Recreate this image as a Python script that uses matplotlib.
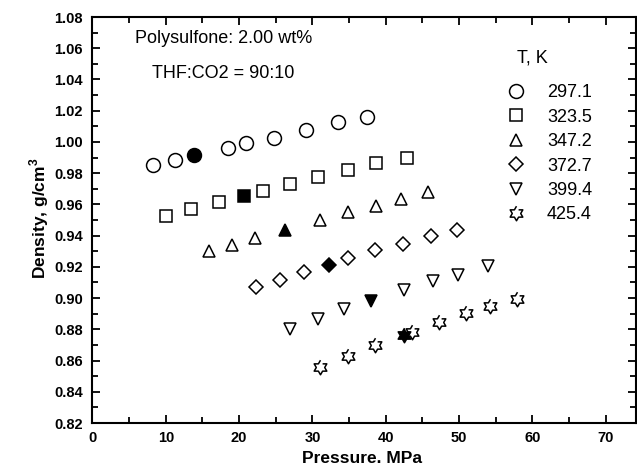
import matplotlib
matplotlib.use("Agg")
import matplotlib.pyplot as plt
from matplotlib.path import Path
from matplotlib.ticker import MultipleLocator, FormatStrFormatter
from matplotlib.lines import Line2D
import numpy as np

plt.rcParams['font.family'] = ['Liberation Sans', 'DejaVu Sans']
plt.rcParams['mathtext.fontset'] = 'custom'
plt.rcParams['mathtext.rm'] = 'Liberation Sans'
plt.rcParams['mathtext.bf'] = 'Liberation Sans:bold'

# temperatures (legend labels)
temps = ["297.1", "323.5", "347.2", "372.7", "399.4", "425.4"]

# pressure (MPa) and density (g/cm3)
p_297 = [8.3, 11.3, 13.8, 18.5, 21.0, 24.7, 29.1, 33.5, 37.5]
d_297 = [0.985, 0.9885, 0.9915, 0.9964, 0.9996, 1.0027, 1.0074, 1.0125, 1.0157]

p_323 = [10.0, 13.5, 17.3, 20.7, 23.3, 26.9, 30.7, 34.8, 38.7, 42.9]
d_323 = [0.9524, 0.9571, 0.9617, 0.9655, 0.9687, 0.973, 0.9773, 0.9821, 0.9868, 0.990]

p_347 = [15.9, 19.0, 22.2, 26.3, 31.0, 34.9, 38.7, 42.1, 45.8]
d_347 = [0.930, 0.9341, 0.9386, 0.9439, 0.9502, 0.955, 0.9592, 0.9634, 0.9677]

p_372 = [22.3, 25.6, 28.9, 32.3, 34.9, 38.5, 42.4, 46.2, 49.7]
d_372 = [0.9072, 0.9118, 0.9167, 0.9214, 0.9257, 0.9305, 0.9348, 0.9397, 0.9437]

p_399 = [26.9, 30.7, 34.3, 38.0, 42.5, 46.4, 49.9, 53.9]
d_399 = [0.880, 0.8866, 0.8929, 0.8983, 0.9055, 0.9108, 0.915, 0.9203]

p_425 = [31.0, 34.9, 38.6, 42.5, 43.6, 47.3, 51.0, 54.2, 57.9]
d_425 = [0.8558, 0.863, 0.870, 0.8764, 0.8785, 0.8849, 0.8902, 0.8951, 0.8997]

# index of the solid (filled) point in each series
filled = [2, 3, 3, 3, 3, 3]

# six pointed star marker (star of David outline)
ang = np.deg2rad(np.arange(90, 450, 30))
rad = np.where(np.arange(12) % 2 == 0, 1.0, 0.577)
star = Path(np.column_stack([rad * np.cos(ang), rad * np.sin(ang)]))

markers = ['o', 's', '^', 'D', 'v', star]
sizes = [10, 8, 8.5, 7, 8.5, 10.5]

series_p = [p_297, p_323, p_347, p_372, p_399, p_425]
series_d = [d_297, d_323, d_347, d_372, d_399, d_425]

fig = plt.figure(figsize=(6.37, 4.65), dpi=100)
ax = fig.add_axes([0.1452, 0.0903, 0.854, 0.8731])

handles = []
for i in range(6):
    P = np.array(series_p[i])
    D = np.array(series_d[i])
    k = filled[i]
    mask = np.arange(len(P)) != k
    ax.plot(P[mask], D[mask], ls='none', marker=markers[i], ms=sizes[i],
            mfc='white', mec='black', mew=1.1)
    ax.plot(P[k], D[k], ls='none', marker=markers[i], ms=sizes[i],
            mfc='black', mec='black', mew=1.1)
    handles.append(Line2D([], [], ls='none', marker=markers[i], ms=sizes[i],
                          mfc='white', mec='black', mew=1.1))

ax.set_xlim(0, 74.2)
ax.set_ylim(0.82, 1.08)
ax.xaxis.set_major_locator(MultipleLocator(10))
ax.xaxis.set_minor_locator(MultipleLocator(5))
ax.yaxis.set_major_locator(MultipleLocator(0.02))
ax.yaxis.set_minor_locator(MultipleLocator(0.01))
ax.yaxis.set_major_formatter(FormatStrFormatter('%.2f'))

ax.tick_params(which='both', direction='in', top=True, right=True, width=1.3)
ax.tick_params(which='major', length=6, labelsize=10.5)
ax.tick_params(which='minor', length=4)
ax.tick_params(axis='y', which='major', pad=7)
ax.tick_params(axis='x', which='major', pad=5.5)
for lab in ax.get_xticklabels() + ax.get_yticklabels():
    lab.set_fontweight('bold')
for s in ax.spines.values():
    s.set_linewidth(1.5)

ax.set_xlabel('Pressure. MPa', fontsize=12.5, fontweight='bold')
ax.set_ylabel('Density, g/cm$^\\mathbf{3}$', fontsize=12.5, fontweight='bold')
ax.xaxis.set_label_coords(0.495, -0.068)
ax.yaxis.set_label_coords(-0.076, 0.505)

ax.text(0.078, 0.948, 'Polysulfone: 2.00 wt%', transform=ax.transAxes,
        fontsize=13, va='center', ha='left')
ax.text(0.109, 0.862, 'THF:CO2 = 90:10', transform=ax.transAxes,
        fontsize=13, va='center', ha='left')
ax.text(0.781, 0.899, 'T, K', transform=ax.transAxes,
        fontsize=13, va='center', ha='left')

ax.legend(handles, temps, loc='upper left', bbox_to_anchor=(0.761, 0.834),
          frameon=False, fontsize=13, handlelength=1.0, handletextpad=1.25,
          labelspacing=0.41, borderpad=0, borderaxespad=0)

fig.savefig('out.png', dpi=100)
